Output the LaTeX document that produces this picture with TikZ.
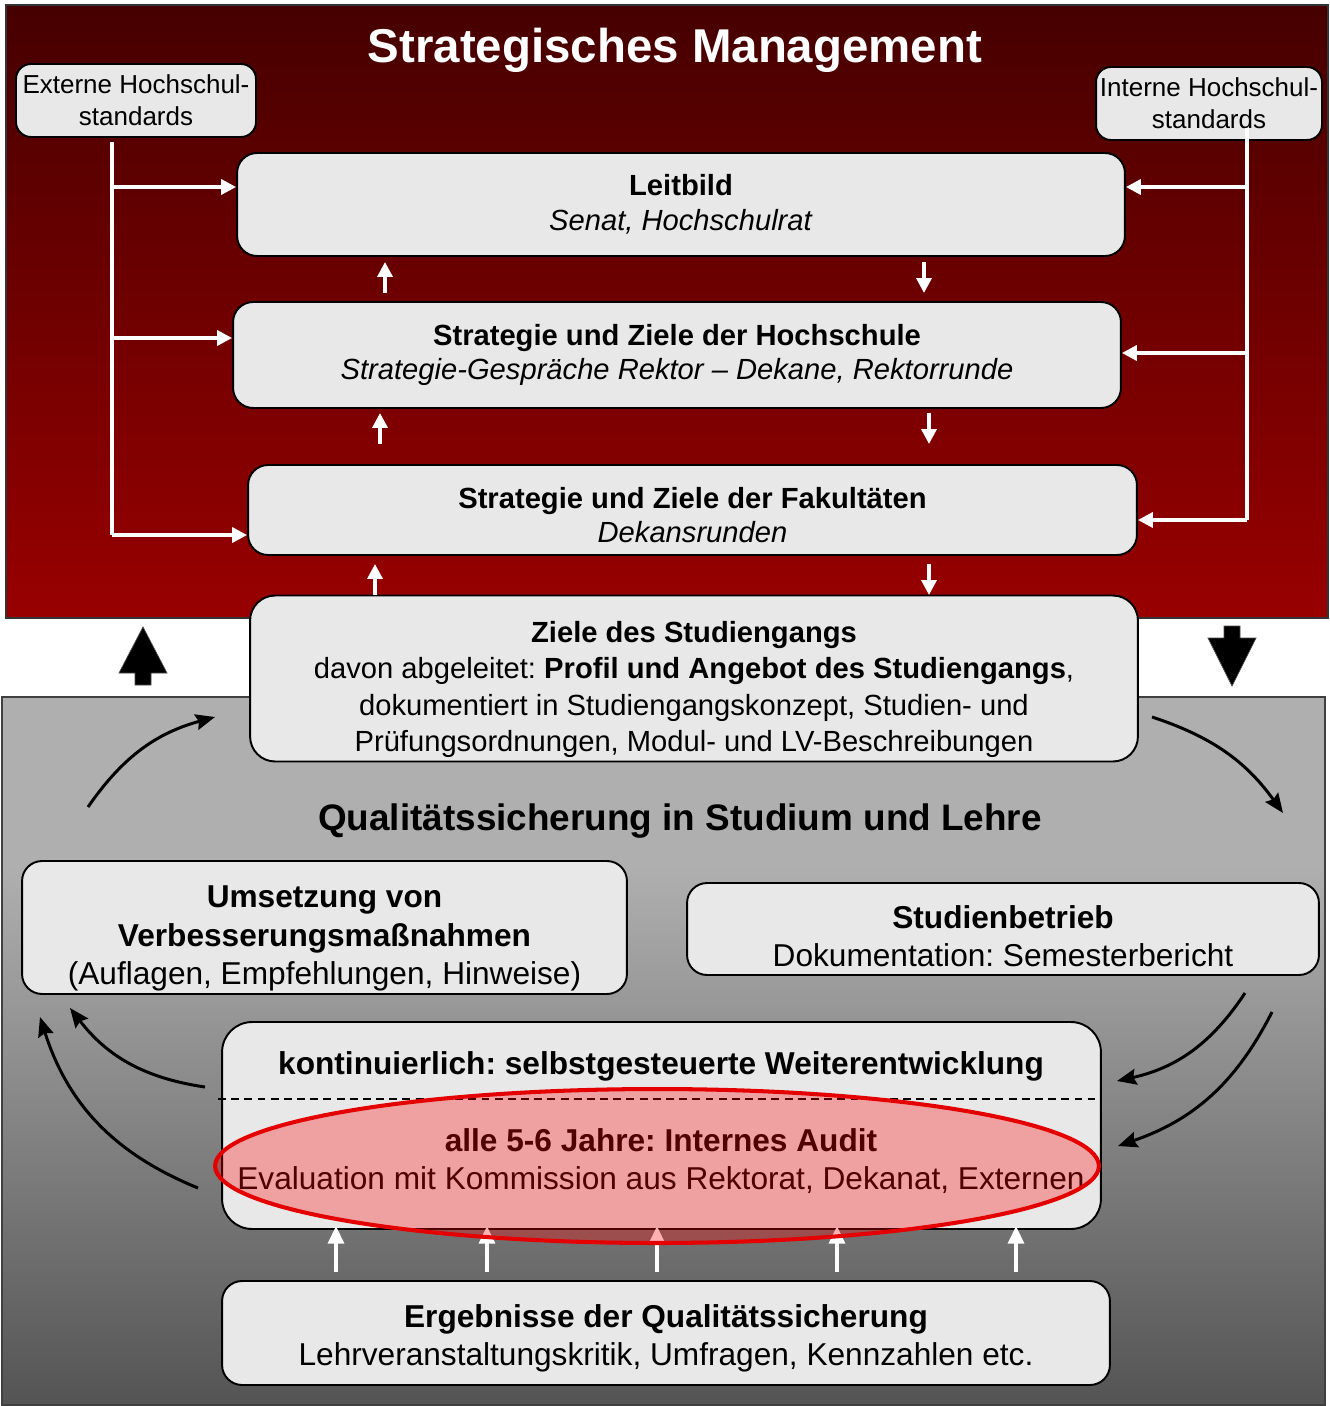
\documentclass[tikz,border=0pt]{standalone}
\usepackage{fontspec}
\setmainfont{Liberation Sans}
\usetikzlibrary{arrows.meta,shapes.geometric}
\definecolor{rtop}{RGB}{70,0,0}
\definecolor{rbot}{RGB}{153,0,0}
\definecolor{gtop}{RGB}{175,175,175}
\definecolor{gbot}{RGB}{84,84,84}
\definecolor{boxgray}{RGB}{232,232,232}
\definecolor{ellred}{RGB}{228,0,0}
\pgfdeclareverticalshading{grayshade}{100bp}{color(0bp)=(gbot); color(25bp)=(gbot); color(63bp)=(gtop); color(100bp)=(gtop)}
\newcommand\fsTop{\fontsize{16.6}{19.8}\selectfont}
\newcommand\fsZiel{\fontsize{16.6}{20.7}\selectfont}
\newcommand\fsBot{\fontsize{18}{21.8}\selectfont}
\newcommand\fsStd{\fontsize{14.8}{18.1}\selectfont}
\begin{document}
\frenchspacing
\begin{tikzpicture}[x=0.02cm,y=-0.02cm,
  box/.style={draw=black, line width=1.1pt, fill=boxgray, rounded corners=0.4cm, align=center, inner sep=0pt},
  txt/.style={align=center, inner sep=0pt},
  wline/.style={draw=white, line width=2pt},
  warr/.style={wline, -{Triangle[length=8.5pt,width=8.5pt]}},
  wuarr/.style={wline, -{Triangle[length=10pt,width=9pt]}},
  barr/.style={draw=black, line width=1.7pt, -{Stealth[length=11pt,width=9pt,inset=1.5pt]}},
  blockarr/.style={fill=black, draw=black!70, line width=0.4pt}
]
\useasboundingbox (0,0) rectangle (1329,1406);
\fill[white] (0,0) rectangle (1329,1406);
% backgrounds
\draw[top color=rtop, bottom color=rbot, draw=black!80, line width=0.6pt] (6,5) rectangle (1328,618);
\draw[shading=grayshade, draw=black!75, line width=1pt] (2,697) rectangle (1325,1405);

% block arrows
\draw[blockarr] (143,627) -- (167,673) -- (151,673) -- (151,685) -- (135,685) -- (135,673) -- (119,673) -- cycle;
\draw[blockarr] (1232,686) -- (1256,638) -- (1240,638) -- (1240,626) -- (1224,626) -- (1224,638) -- (1208,638) -- cycle;

% titles
\node[text=white, font=\fontsize{27}{32}\selectfont\bfseries] (title) at (675,50) {Strategisches Management};
\node[font=\fontsize{21}{25}\selectfont\bfseries] (qtitle) at (680,821) {Qualitätssicherung in Studium und Lehre};

% top boxes
\node[box, rounded corners=0.3cm, font=\fsStd, minimum width=4.80cm, minimum height=1.46cm] (ext) at (136,100.5) {Externe Hochschul-\\standards};
\node[box, rounded corners=0.3cm, font=\fsStd, minimum width=4.52cm, minimum height=1.46cm] (int) at (1209,103.5) {Interne Hochschul-\\standards};
\node[box, font=\fsTop, minimum width=17.76cm, minimum height=2.06cm] (lb) at (681,204.5) {\textbf{Leitbild}\\\textit{Senat, Hochschulrat}};
\node[box, font=\fsTop, minimum width=17.76cm, minimum height=2.12cm] (hs) at (677,355) {\textbf{Strategie und Ziele der Hochschule}\\\textit{Strategie-Gespräche Rektor – Dekane, Rektorrunde}};
\node[box, minimum width=17.78cm, minimum height=1.80cm] (fak) at (692.5,510) {};
\node[txt, font=\fsTop] (faktxt) at (692.5,515) {\textbf{Strategie und Ziele der Fakultäten}\\\textit{Dekansrunden}};
\node[box, rounded corners=0.5cm, minimum width=17.76cm, minimum height=3.32cm] (ziele) at (694,678.5) {};
\node[txt, font=\fsZiel] (zieletxt) at (694,689.5) {\textbf{Ziele des Studiengangs}\\davon abgeleitet: \textbf{Profil und Angebot des Studiengangs},\\dokumentiert in Studiengangskonzept, Studien- und\\Prüfungsordnungen, Modul- und LV-Beschreibungen};

% feeders left
\coordinate (eL0) at (112,142);
\coordinate (eL1) at (112,187);
\coordinate (eL2) at (112,338);
\coordinate (eL3) at (112,535);
\draw[wline] (eL0) -- (eL3);
\draw[warr] (eL1) -- (eL1 -| lb.west);
\draw[warr] (eL2) -- (eL2 -| hs.west);
\draw[warr] (eL3) -- (eL3 -| fak.west);
% feeders right
\coordinate (iR0) at (1247,128);
\coordinate (iR1) at (1247,187);
\coordinate (iR2) at (1247,353);
\coordinate (iR3) at (1247,520);
\draw[wline] (iR0) -- (iR3);
\draw[warr] (iR1) -- (iR1 -| lb.east);
\draw[warr] (iR2) -- (iR2 -| hs.east);
\draw[warr] (iR3) -- (iR3 -| fak.east);

% small arrows between top boxes
\coordinate (u1s) at (385,293); \coordinate (u1e) at (385,262);
\coordinate (d1s) at (924,262); \coordinate (d1e) at (924,293);
\coordinate (u2s) at (380,444); \coordinate (u2e) at (380,413);
\coordinate (d2s) at (929,413); \coordinate (d2e) at (929,444);
\coordinate (u3s) at (375,595); \coordinate (u3e) at (375,564);
\coordinate (d3s) at (929,564); \coordinate (d3e) at (929,595);
\foreach \a in {u1,d1,u2,d2,u3,d3} {\draw[warr] (\a s) -- (\a e);}

% bottom boxes
\node[box, minimum width=12.10cm, minimum height=2.66cm] (ums) at (324.5,927.5) {};
\node[txt, font=\fsBot] (umstxt) at (324.5,938.5) {\textbf{Umsetzung von}\\\textbf{Verbesserungsmaßnahmen}\\(Auflagen, Empfehlungen, Hinweise)};
\node[box, minimum width=12.64cm, minimum height=1.84cm] (stud) at (1003,929) {};
\node[txt, font=\fsBot] (studtxt) at (1003,936) {\textbf{Studienbetrieb}\\Dokumentation: Semesterbericht};
\node[box, rounded corners=0.6cm, minimum width=17.58cm, minimum height=4.14cm] (kont) at (661.5,1125.5) {};
\node[font=\fsBot\bfseries] (konttxt) at (661,1066) {kontinuierlich: selbstgesteuerte Weiterentwicklung};
\node[txt, font=\fsBot] (audittxt) at (661,1161) {\textbf{alle 5-6 Jahre: Internes Audit}\\Evaluation mit Kommission aus Rektorat, Dekanat, Externen};
\draw[dashed, dash pattern=on 4.5pt off 3pt, line width=0.8pt] (218,1099) -- (1095,1099);
\node[box, minimum width=17.76cm, minimum height=2.08cm] (erg) at (666,1333) {};
\node[txt, font=\fsBot] (ergtxt) at (666,1338) {\textbf{Ergebnisse der Qualitätssicherung}\\Lehrveranstaltungskritik, Umfragen, Kennzahlen etc.};

% white up arrows
\foreach \x [count=\i] in {336,487,657,837,1016} {
  \coordinate (w\i s) at (\x,1272);
  \coordinate (w\i e) at (\x,1226);
  \draw[wuarr] (w\i s) -- (w\i e);
}

% ellipse overlay
\node[ellipse, draw=ellred, line width=2.3pt, fill=red, fill opacity=0.31, draw opacity=1, minimum width=17.68cm, minimum height=3.08cm, inner sep=0pt] (audit) at (657,1166) {};

% curved black arrows
\coordinate (c1s) at (88,807); \coordinate (c1e) at (215,717);
\coordinate (c2s) at (1152,717); \coordinate (c2e) at (1283,813);
\coordinate (c3s) at (205,1087); \coordinate (c3e) at (70,1008);
\coordinate (c4s) at (198,1188); \coordinate (c4e) at (40,1017);
\coordinate (c5s) at (1245,993); \coordinate (c5e) at (1117,1081);
\coordinate (c6s) at (1272,1012); \coordinate (c6e) at (1118,1146);
\draw[barr] (c1s) to[bend left=20] (c1e);
\draw[barr] (c2s) to[bend left=18] (c2e);
\draw[barr] (c3s) to[bend left=22] (c3e);
\draw[barr] (c4s) to[bend left=25] (c4e);
\draw[barr] (c5s) to[bend left=22] (c5e);
\draw[barr] (c6s) to[bend left=22] (c6e);
\end{tikzpicture}
\end{document}
